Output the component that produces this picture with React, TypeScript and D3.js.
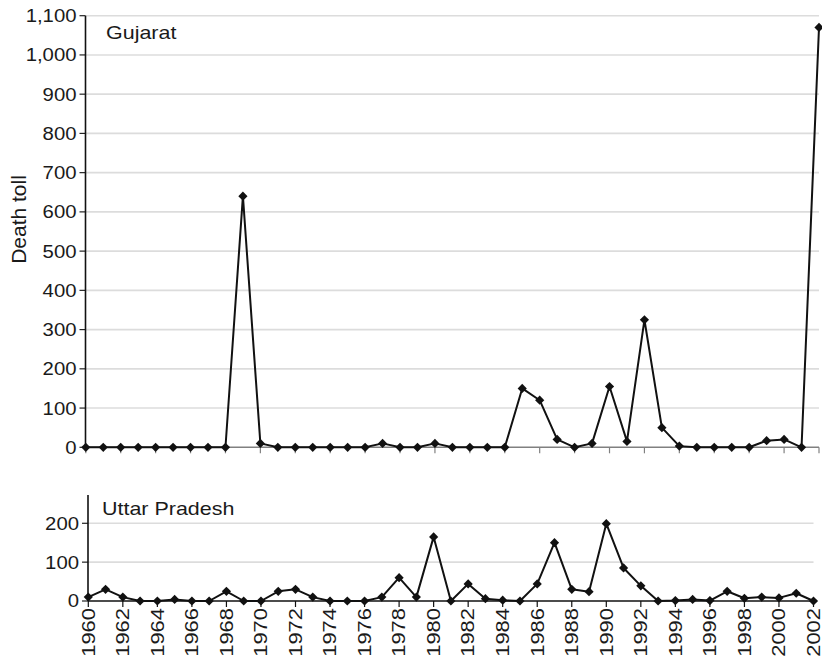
import React from "react";
import * as d3 from "d3";

const years = [1960,1961,1962,1963,1964,1965,1966,1967,1968,1969,1970,1971,1972,1973,1974,1975,1976,1977,1978,1979,1980,1981,1982,1983,1984,1985,1986,1987,1988,1989,1990,1991,1992,1993,1994,1995,1996,1997,1998,1999,2000,2001,2002];
const gujarat = [0,0,0,0,0,0,0,0,0,640,10,0,0,0,0,0,0,10,0,0,10,0,0,0,0,150,120,20,0,10,155,15,325,50,3,0,0,0,0,17,20,0,1070];
const uttarPradesh = [10,30,10,0,0,4,0,0,25,0,0,25,30,10,0,0,0,10,60,10,165,0,44,6,2,0,44,150,30,24,199,85,39,0,1,4,1,25,7,10,8,20,0];
const topTicks = [0,100,200,300,400,500,600,700,800,900,1000,1100];
const bottomTicks = [0,100,200];
const xTickYears = years.filter((y) => y % 2 === 0);

const FONT = "'Liberation Sans', Arial, Helvetica, sans-serif";
const SX = 1.13;

function diamond(r: number) {
  return `M0,${-r}L${r},0L0,${r}L${-r},0Z`;
}

function Panel({
  data, xRange, yRange, domainMax, ticks, title, titlePos, baseColor, showXLabels,
}: {
  data: number[]; xRange: [number, number]; yRange: [number, number]; domainMax: number;
  ticks: number[]; title: string; titlePos: [number, number]; baseColor: string; showXLabels: boolean;
}) {
  const x = d3.scaleLinear().domain([years[0], years[years.length - 1]]).range(xRange);
  const y = d3.scaleLinear().domain([0, domainMax]).range(yRange);
  const line = d3.line<number>().x((_, i) => x(years[i])).y((d) => y(d));
  const x0 = xRange[0] - 0.3;
  return (
    <g>
      {ticks.filter((t) => t > 0).map((t) => (
        <line key={"g" + t} x1={x0} x2={xRange[1]} y1={y(t)} y2={y(t)} stroke="#dcdcdc" strokeWidth={1.6} />
      ))}
      {ticks.map((t) => (
        <g key={"t" + t}>
          <line x1={x0 - 6} x2={x0} y1={y(t)} y2={y(t)} stroke="#222" strokeWidth={1.2} />
          <text
            transform={`translate(${x0 - 9},${y(t)}) scale(${SX},1)`}
            textAnchor="end"
            dy="0.36em"
            fontSize={18}
            fontFamily={FONT}
            fill="#1a1a1a"
          >
            {d3.format(",")(t)}
          </text>
        </g>
      ))}
      <line x1={x0} x2={xRange[1]} y1={y(0)} y2={y(0)} stroke={baseColor} strokeWidth={1.6} />
      {xTickYears.map((yr) => (
        <line key={"xt" + yr} x1={x(yr)} x2={x(yr)} y1={y(0)} y2={y(0) + 6} stroke={baseColor} strokeWidth={1.2} />
      ))}
      <line x1={x0} x2={x0} y1={y(domainMax)} y2={y(0)} stroke="#111" strokeWidth={1.6} />
      <path d={line(data) || ""} fill="none" stroke="#111" strokeWidth={2} strokeLinejoin="round" />
      {data.map((d, i) => (
        <path key={"m" + i} d={diamond(4.6)} transform={`translate(${x(years[i])},${y(d)})`} fill="#111" />
      ))}
      <text
        transform={`translate(${titlePos[0]},${titlePos[1]}) scale(${SX},1)`}
        fontSize={19}
        fontFamily={FONT}
        fill="#1a1a1a"
      >
        {title}
      </text>
      {showXLabels &&
        xTickYears.map((yr) => (
          <text
            key={"xl" + yr}
            transform={`translate(${x(yr)},${y(0) + 7}) rotate(-90) scale(1.22,1)`}
            textAnchor="end"
            dy="0.35em"
            fontSize={18}
            fontFamily={FONT}
            fill="#1a1a1a"
          >
            {yr}
          </text>
        ))}
    </g>
  );
}

export default function App() {
  return (
    <svg
      width={822}
      height={662}
      style={{ position: "absolute", left: 0, top: 0, background: "#fff" }}
    >
      <rect width={822} height={662} fill="#fff" />
      <Panel
        data={gujarat}
        xRange={[85.8, 819]}
        yRange={[447.3, 15.7]}
        domainMax={1100}
        ticks={topTicks}
        title="Gujarat"
        titlePos={[106, 39]}
        baseColor="#808080"
        showXLabels={false}
      />
      <Panel
        data={uttarPradesh}
        xRange={[88.3, 813.5]}
        yRange={[601, 495]}
        domainMax={272.8}
        ticks={bottomTicks}
        title="Uttar Pradesh"
        titlePos={[102, 515]}
        baseColor="#111"
        showXLabels={true}
      />
      <text
        transform="translate(26,219.5) rotate(-90)"
        textAnchor="middle"
        fontSize={21}
        fontFamily={FONT}
        fill="#1a1a1a"
      >
        Death toll
      </text>
    </svg>
  );
}
